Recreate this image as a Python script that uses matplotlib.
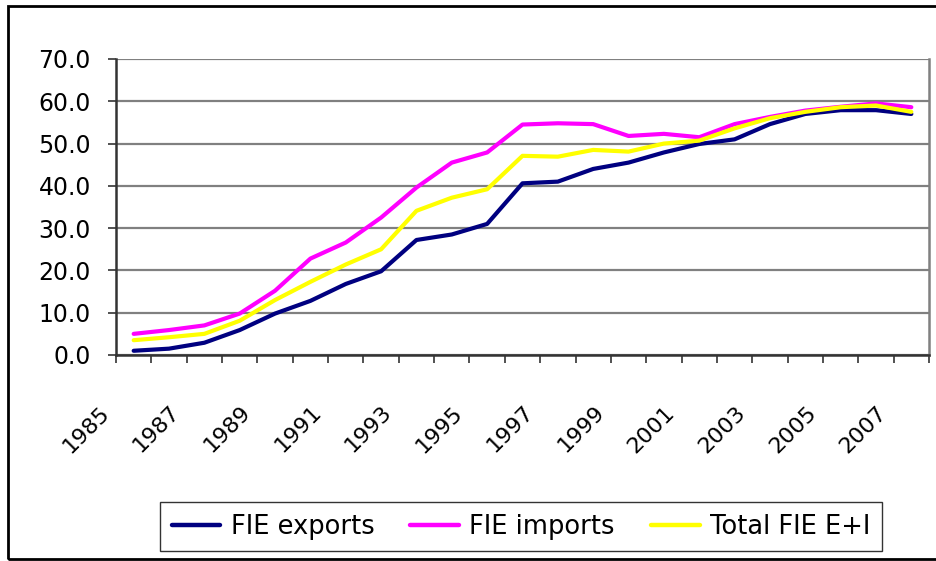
import matplotlib
matplotlib.use("Agg")
import matplotlib.pyplot as plt
import matplotlib.patches as mpatches
import matplotlib.transforms as mtransforms
import numpy as np

years = list(range(1985, 2008))
fie_exports = [1.0, 1.5, 2.9, 5.9, 9.8, 12.8, 16.8, 19.8, 27.2, 28.5, 31.0, 40.6,
               41.0, 44.0, 45.5, 47.9, 49.9, 51.0, 54.6, 57.0, 57.9, 57.9, 57.0]
fie_imports = [5.0, 5.9, 7.0, 9.8, 15.2, 22.8, 26.6, 32.5, 39.6, 45.5, 47.9, 54.5,
               54.8, 54.6, 51.8, 52.3, 51.5, 54.6, 56.3, 57.8, 58.7, 59.5, 58.6]
total_fie = [3.5, 4.2, 5.0, 8.1, 13.0, 17.3, 21.4, 25.0, 34.1, 37.2, 39.2, 47.1,
             46.9, 48.5, 48.1, 50.0, 50.7, 53.6, 56.0, 57.5, 58.6, 59.0, 57.5]
series_names = ["FIE exports", "FIE imports", "Total FIE E+I"]
series_colors = ["#000080", "#FF00FF", "#FFFF00"]
y_ticks = [0, 10, 20, 30, 40, 50, 60, 70]

plt.rcParams['font.family'] = ['DejaVu Sans']
W, H = 936, 561
fig = plt.figure(figsize=(W / 100, H / 100), dpi=100)

ax = fig.add_axes([116 / W, 1 - 355 / H, (929 - 116) / W, (355 - 59) / H])

x = np.arange(len(years))
for vals, name, col in zip([fie_exports, fie_imports, total_fie], series_names, series_colors):
    ax.plot(x, vals, color=col, lw=3.0, label=name, solid_capstyle='round',
            solid_joinstyle='round', zorder=3)

ax.set_xlim(-0.5, len(years) - 0.5)
ax.set_ylim(0, 70)
ax.set_yticks(y_ticks)
ax.set_yticklabels([f"{v:.1f}" for v in y_ticks])
ax.yaxis.grid(True, color="#808080", lw=1.6)
ax.set_axisbelow(True)

# tick marks at category boundaries; a label every 2 years
bounds = np.arange(len(years) + 1) - 0.5
ax.set_xticks(bounds)
labels = [str(years[j]) if (j < len(years) and j % 2 == 0) else "" for j in range(len(bounds))]
ax.set_xticklabels(labels, rotation=45, ha='right', va='top')

ax.tick_params(axis='x', length=6, width=1.2, color="#333333", pad=28, labelsize=16)
ax.tick_params(axis='y', length=6, width=1.2, color="#333333", pad=12, labelsize=17)
offset = mtransforms.ScaledTranslation(-3 / 100, 0, fig.dpi_scale_trans)
for lab in ax.get_xticklabels():
    lab.set_transform(lab.get_transform() + offset)

for s in ['left', 'bottom']:
    ax.spines[s].set_color("#333333")
    ax.spines[s].set_linewidth(1.8)
ax.spines['right'].set_color("#808080")
ax.spines['right'].set_linewidth(1.8)
ax.spines['top'].set_visible(False)

leg = fig.legend(loc='center', bbox_to_anchor=((161 + 881) / 2 / W, 1 - 526.5 / H),
                 ncol=3, fontsize=18.5, frameon=True, fancybox=False,
                 edgecolor='black', handlelength=1.9, handletextpad=0.4,
                 columnspacing=1.4, borderpad=0.45, borderaxespad=0)
leg.get_frame().set_linewidth(1.0)
for line in leg.get_lines():
    line.set_linewidth(3.2)

border = mpatches.Rectangle((8 / W, 1 - 559 / H), 1.1, (559 - 6) / H,
                            transform=fig.transFigure, fill=False,
                            edgecolor='black', lw=2, clip_on=False)
fig.patches.append(border)

fig.savefig("out.png", dpi=100)
